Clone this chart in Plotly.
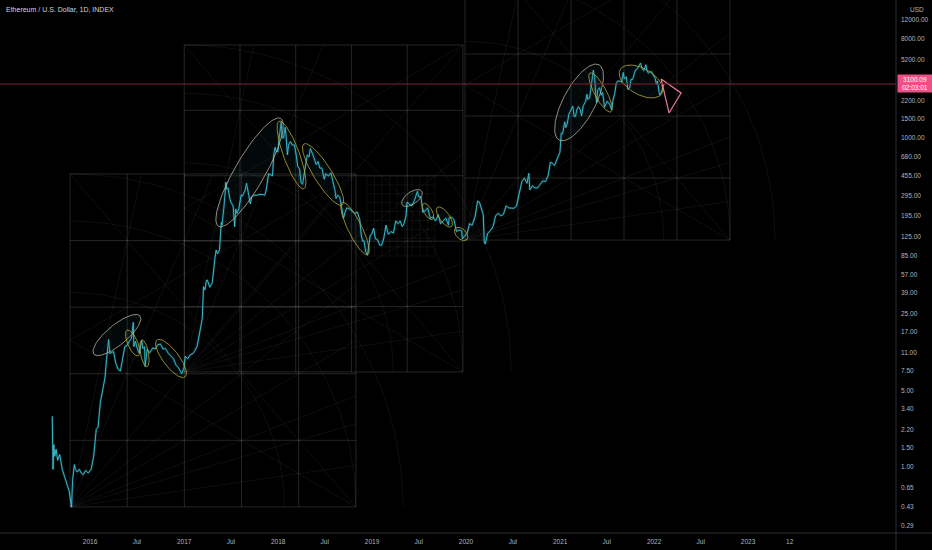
import numpy as np
import pandas as pd
import plotly.graph_objects as go

dates = [
    '2015-08-07', '2015-08-08', '2015-08-10', '2015-08-13', '2015-08-17', '2015-08-22', '2015-08-28',
    '2015-09-05', '2015-09-15', '2015-09-25', '2015-10-05', '2015-10-12', '2015-10-21', '2015-10-25',
    '2015-11-01', '2015-11-05', '2015-11-12', '2015-11-20', '2015-11-28', '2015-12-05', '2015-12-15',
    '2015-12-25',
    '2016-01-05', '2016-01-15', '2016-01-25', '2016-02-01', '2016-02-10', '2016-02-20', '2016-02-28',
    '2016-03-05', '2016-03-13', '2016-03-18', '2016-03-25', '2016-04-01', '2016-04-10', '2016-04-20',
    '2016-04-28', '2016-05-05', '2016-05-15', '2016-05-25', '2016-06-01', '2016-06-10', '2016-06-17',
    '2016-06-19', '2016-06-25', '2016-07-01', '2016-07-10', '2016-07-20', '2016-07-24', '2016-07-31',
    '2016-08-02', '2016-08-10', '2016-08-20', '2016-09-01', '2016-09-10', '2016-09-20', '2016-10-01',
    '2016-10-10', '2016-10-20', '2016-11-01', '2016-11-10', '2016-11-20', '2016-12-01', '2016-12-10',
    '2016-12-15', '2016-12-22', '2016-12-31',
    '2017-01-05', '2017-01-15', '2017-01-25', '2017-02-01', '2017-02-10', '2017-02-20', '2017-02-28',
    '2017-03-05', '2017-03-12', '2017-03-17', '2017-03-22', '2017-03-28', '2017-04-01', '2017-04-10',
    '2017-04-20', '2017-04-30', '2017-05-05', '2017-05-10', '2017-05-18', '2017-05-25', '2017-05-28',
    '2017-06-05', '2017-06-12', '2017-06-15', '2017-06-20', '2017-06-27', '2017-07-01', '2017-07-10',
    '2017-07-16', '2017-07-20', '2017-07-25', '2017-08-01', '2017-08-10', '2017-08-15', '2017-08-25',
    '2017-08-31', '2017-09-05', '2017-09-15', '2017-09-20', '2017-09-30', '2017-10-10', '2017-10-20',
    '2017-10-31', '2017-11-10', '2017-11-15', '2017-11-25', '2017-12-01', '2017-12-10', '2017-12-15',
    '2017-12-20', '2017-12-25', '2017-12-31',
    '2018-01-05', '2018-01-08', '2018-01-13', '2018-01-16', '2018-01-17', '2018-01-22', '2018-01-28',
    '2018-02-01', '2018-02-06', '2018-02-10', '2018-02-18', '2018-02-25', '2018-03-05', '2018-03-12',
    '2018-03-18', '2018-03-25', '2018-03-31', '2018-04-06', '2018-04-15', '2018-04-24', '2018-05-01',
    '2018-05-06', '2018-05-15', '2018-05-22', '2018-05-29', '2018-06-05', '2018-06-12', '2018-06-20',
    '2018-06-29', '2018-07-05', '2018-07-15', '2018-07-25', '2018-08-01', '2018-08-10', '2018-08-14',
    '2018-08-20', '2018-08-28', '2018-09-05', '2018-09-12', '2018-09-18', '2018-09-25', '2018-10-05',
    '2018-10-15', '2018-10-25', '2018-11-05', '2018-11-14', '2018-11-20', '2018-11-25', '2018-12-01',
    '2018-12-07', '2018-12-14', '2018-12-20', '2018-12-25', '2018-12-31',
    '2019-01-07', '2019-01-14', '2019-01-22', '2019-01-31', '2019-02-07', '2019-02-15', '2019-02-24',
    '2019-03-05', '2019-03-15', '2019-03-25', '2019-04-03', '2019-04-12', '2019-04-20', '2019-04-28',
    '2019-05-05', '2019-05-13', '2019-05-17', '2019-05-25', '2019-06-04', '2019-06-15', '2019-06-26',
    '2019-07-01', '2019-07-10', '2019-07-17', '2019-07-25', '2019-08-05', '2019-08-15', '2019-08-25',
    '2019-09-05', '2019-09-15', '2019-09-24', '2019-10-05', '2019-10-15', '2019-10-25', '2019-10-27',
    '2019-11-05', '2019-11-15', '2019-11-25', '2019-12-05', '2019-12-15', '2019-12-18', '2019-12-25',
    '2020-01-05', '2020-01-15', '2020-01-25', '2020-02-05', '2020-02-15', '2020-02-22', '2020-03-01',
    '2020-03-08', '2020-03-12', '2020-03-16', '2020-03-25', '2020-04-05', '2020-04-15', '2020-04-25',
    '2020-05-05', '2020-05-15', '2020-05-25', '2020-06-05', '2020-06-15', '2020-06-25', '2020-07-05',
    '2020-07-15', '2020-07-25', '2020-08-05', '2020-08-15', '2020-08-25', '2020-09-01', '2020-09-05',
    '2020-09-15', '2020-09-25', '2020-10-05', '2020-10-15', '2020-10-25', '2020-11-05', '2020-11-15',
    '2020-11-24', '2020-12-01', '2020-12-10', '2020-12-20', '2020-12-31',
    '2021-01-05', '2021-01-10', '2021-01-19', '2021-01-22', '2021-01-28', '2021-02-04', '2021-02-12',
    '2021-02-19', '2021-02-24', '2021-03-01', '2021-03-08', '2021-03-13', '2021-03-20', '2021-03-25',
    '2021-04-01', '2021-04-10', '2021-04-15', '2021-04-18', '2021-04-25', '2021-05-01', '2021-05-05',
    '2021-05-10', '2021-05-12', '2021-05-15', '2021-05-19', '2021-05-23', '2021-05-27', '2021-06-03',
    '2021-06-10', '2021-06-15', '2021-06-22', '2021-06-27', '2021-07-02', '2021-07-08', '2021-07-14',
    '2021-07-20', '2021-07-25', '2021-08-01', '2021-08-07', '2021-08-13', '2021-08-20', '2021-08-28',
    '2021-09-03', '2021-09-07', '2021-09-15', '2021-09-21', '2021-09-28', '2021-10-03', '2021-10-10',
    '2021-10-16', '2021-10-21', '2021-10-28', '2021-11-03', '2021-11-09', '2021-11-16', '2021-11-22',
    '2021-11-30', '2021-12-04', '2021-12-10', '2021-12-15', '2021-12-22', '2021-12-31',
    '2022-01-05', '2022-01-10', '2022-01-14', '2022-01-21', '2022-01-24', '2022-01-29', '2022-02-04',
    '2022-02-08',
]
closes = [
    2.9, 1.2, 0.95, 1.6, 1.25, 1.45, 1.15,
    1.3, 0.95, 0.8, 0.66, 0.6, 0.43, 0.75,
    1.05, 0.95, 0.9, 0.95, 0.88, 0.85, 0.93,
    0.88,
    0.95, 1.25, 2.2, 2.3, 3.9, 5.0, 6.5,
    9.5, 14.5, 10.8, 11.0, 11.3, 8.8, 7.7,
    7.5, 9.6, 12.5, 12.9, 14.0, 14.9, 20.8,
    12.5, 14.0, 12.4, 10.9, 14.2, 12.0, 12.5,
    8.2, 11.8, 11.0, 12.2, 11.9, 13.0, 13.2,
    11.9, 12.0, 10.8, 10.3, 9.7, 8.4, 8.0,
    7.6, 7.1, 8.0,
    10.2, 9.7, 10.6, 10.7, 11.3, 12.6, 16.0,
    19.5, 22.5, 44.0, 41.0, 50.0, 50.5, 43.5,
    48.0, 79.0, 95.0, 88.0, 95.0, 170.0, 160.0,
    245.0, 395.0, 340.0, 350.0, 280.0, 260.0, 240.0,
    155.0, 225.0, 205.0, 225.0, 300.0, 295.0, 330.0,
    385.0, 330.0, 250.0, 290.0, 300.0, 300.0, 305.0,
    305.0, 300.0, 330.0, 470.0, 465.0, 450.0, 700.0,
    820.0, 750.0, 750.0,
    1000.0, 1150.0, 1400.0, 1050.0, 1000.0, 1000.0, 1250.0,
    1030.0, 700.0, 860.0, 925.0, 860.0, 860.0, 700.0,
    550.0, 520.0, 390.0, 380.0, 500.0, 700.0, 670.0,
    800.0, 710.0, 640.0, 570.0, 610.0, 530.0, 530.0,
    420.0, 470.0, 450.0, 480.0, 415.0, 330.0, 280.0,
    300.0, 290.0, 230.0, 185.0, 210.0, 230.0, 225.0,
    215.0, 205.0, 210.0, 180.0, 130.0, 115.0, 115.0,
    92.0, 85.0, 110.0, 130.0, 133.0,
    150.0, 120.0, 118.0, 105.0, 105.0, 120.0, 160.0,
    132.0, 140.0, 136.0, 175.0, 165.0, 175.0, 155.0,
    165.0, 195.0, 260.0, 250.0, 240.0, 270.0, 325.0,
    290.0, 290.0, 210.0, 215.0, 230.0, 185.0, 190.0,
    175.0, 200.0, 165.0, 175.0, 185.0, 160.0, 185.0,
    190.0, 180.0, 140.0, 145.0, 142.0, 120.0, 126.0,
    135.0, 165.0, 160.0, 190.0, 265.0, 260.0, 230.0,
    200.0, 112.0, 108.0, 135.0, 143.0, 155.0, 195.0,
    205.0, 195.0, 200.0, 240.0, 230.0, 230.0, 228.0,
    238.0, 305.0, 400.0, 430.0, 385.0, 475.0, 335.0,
    365.0, 350.0, 350.0, 380.0, 405.0, 400.0, 450.0,
    600.0, 590.0, 560.0, 640.0, 740.0,
    1100.0, 1090.0, 1400.0, 1240.0, 1330.0, 1650.0, 1800.0,
    1950.0, 1570.0, 1570.0, 1840.0, 1920.0, 1810.0, 1590.0,
    1970.0, 2150.0, 2500.0, 2250.0, 2300.0, 2950.0, 3500.0,
    4150.0, 3800.0, 3650.0, 2450.0, 2100.0, 2750.0, 2850.0,
    2450.0, 2600.0, 1900.0, 2050.0, 2150.0, 2100.0, 1990.0,
    1800.0, 2200.0, 2550.0, 3150.0, 3300.0, 3300.0, 3220.0,
    3950.0, 3450.0, 3600.0, 2760.0, 2850.0, 3400.0, 3420.0,
    3850.0, 4150.0, 4280.0, 4600.0, 4800.0, 4250.0, 4100.0,
    4650.0, 4100.0, 3900.0, 4000.0, 4000.0, 3700.0,
    3500.0, 3080.0, 3300.0, 2570.0, 2450.0, 2600.0, 3000.0,
    3100.09,
]

# drawings: ellipses (major-axis end points, half width in px)
ell_start_dates = ['2016-01-16', '2016-05-24', '2016-07-21', '2016-09-17', '2017-05-14', '2018-01-05',
                   '2018-04-11', '2018-09-07', '2019-04-28', '2019-07-20', '2019-09-12', '2019-11-21',
                   '2020-12-28', '2021-04-27', '2021-08-22']
ell_start_prices = [10.7, 17.7, 14.4, 14.4, 156, 1420, 880, 258, 245, 251, 233, 150, 955, 3900, 4200]
ell_end_dates = ['2016-07-13', '2016-07-06', '2016-08-09', '2017-01-04', '2018-01-11', '2018-04-11',
                 '2018-09-07', '2018-12-15', '2019-07-13', '2019-08-24', '2019-11-05', '2020-01-04',
                 '2021-06-01', '2021-07-17', '2022-01-31']
ell_end_prices = [23.8, 10.3, 8.2, 6.6, 1503, 344, 244, 86.5, 327, 181, 155, 118, 4630, 1726, 2540]
ell_half_widths = [10, 5, 4, 8, 15, 8, 9, 7, 6, 4, 5, 5, 16, 6, 13]
ell_kinds = ['gray', 'olive', 'olive', 'olive', 'gray', 'olive', 'olive', 'olive', 'gray', 'olive',
             'olive', 'olive', 'gray', 'olive', 'olive']

# Gann boxes
box_start_dates = ['2015-10-15', '2017-01-01', '2019-12-28', '2018-12-12']
box_end_dates = ['2018-10-30', '2019-12-20', '2022-10-23', '2019-09-02']
box_low_prices = [0.432, 7.35, 117, 83.8]
box_high_prices = [469, 7030, 78500, 449]
box_divisions = [5, 5, 5, 9]

# triangle at the end
tri_dates = ['2022-01-28', '2022-04-16', '2022-02-28', '2022-01-28']
tri_prices = [3443, 2567, 1688, 3443]

y_ticks = [0.29, 0.43, 0.65, 1, 1.5, 2.2, 3.4, 5, 7.5, 11, 17, 25, 39, 57, 85, 125, 195, 295,
           455, 680, 1000, 1500, 2200, 3400, 5200, 8000, 12000, 18000]
x_ticks = ['2016-01-01', '2016-07-01', '2017-01-01', '2017-07-01', '2018-01-01', '2018-07-01',
           '2019-01-01', '2019-07-01', '2020-01-01', '2020-07-01', '2021-01-01', '2021-07-01',
           '2022-01-01', '2022-07-01', '2023-01-01', '2023-06-12']
x_tick_text = ['2016', 'Jul', '2017', 'Jul', '2018', 'Jul', '2019', 'Jul', '2020', 'Jul',
               '2021', 'Jul', '2022', 'Jul', '2023', '12']

x_start = pd.Timestamp('2015-01-16')
x_end = pd.Timestamp('2024-07-29')
y_lo, y_hi = np.log10(0.25), np.log10(18070)
PLOT_W, PLOT_H = 896, 533
span_days = (x_end - x_start).days


def to_px(d, p):
    X = (pd.Timestamp(d) - x_start).total_seconds() / 86400 * PLOT_W / span_days
    Y = (np.log10(p) - y_lo) * PLOT_H / (y_hi - y_lo)
    return X, Y


def from_px(X, Y):
    X = np.atleast_1d(np.asarray(X, dtype=float))
    Y = np.atleast_1d(np.asarray(Y, dtype=float))
    ds = [x_start + pd.Timedelta(days=v * span_days / PLOT_W) for v in X]
    ps = list(10 ** (y_lo + Y * (y_hi - y_lo) / PLOT_H))
    return ds, ps


fig = go.Figure()

# gann boxes, fans and arcs
grid_x, grid_y, fine_x, fine_y, fan_x, fan_y = [], [], [], [], [], []
for d0, d1, p0, p1, n in zip(box_start_dates, box_end_dates, box_low_prices, box_high_prices, box_divisions):
    X0, Y0 = to_px(d0, p0)
    X1, Y1 = to_px(d1, p1)
    w, h = X1 - X0, Y1 - Y0
    gx, gy = (grid_x, grid_y) if n <= 5 else (fine_x, fine_y)
    for i in range(n + 1):
        ds, ps = from_px([X0 + w * i / n] * 2, [Y0, Y1])
        gx += ds + [None]; gy += ps + [None]
        ds, ps = from_px([X0, X1], [Y0 + h * i / n] * 2)
        gx += ds + [None]; gy += ps + [None]
    if n > 5:
        continue
    for f in [0.125, 0.25, 0.333, 0.5, 0.667, 1.0]:
        ds, ps = from_px([X0, X1], [Y0, Y0 + h * f])
        fan_x += ds + [None]; fan_y += ps + [None]
    for f in [0.25, 0.5]:
        ds, ps = from_px([X0, X0 + w * f], [Y0, Y1])
        fan_x += ds + [None]; fan_y += ps + [None]
    ds, ps = from_px([X0, X1], [Y1, Y0])
    fan_x += ds + [None]; fan_y += ps + [None]
    ds, ps = from_px([X0, X1], [Y0 + h / 2, Y1])
    fan_x += ds + [None]; fan_y += ps + [None]
    ds, ps = from_px([X0, X1], [Y1 - h / 2, Y0])
    fan_x += ds + [None]; fan_y += ps + [None]
    t = np.linspace(0, np.pi / 2, 40)
    for r in [w, h, 0.75 * w]:
        ds, ps = from_px(X0 + r * np.cos(t), Y0 + r * np.sin(t))
        fan_x += ds + [None]; fan_y += ps + [None]

fig.add_trace(go.Scatter(x=fan_x, y=fan_y, mode='lines',
                         line=dict(color='rgba(255,255,255,0.055)', width=1), hoverinfo='skip'))
fig.add_trace(go.Scatter(x=fine_x, y=fine_y, mode='lines',
                         line=dict(color='rgba(255,255,255,0.08)', width=0.7), hoverinfo='skip'))
fig.add_trace(go.Scatter(x=grid_x, y=grid_y, mode='lines',
                         line=dict(color='rgba(255,255,255,0.14)', width=1), hoverinfo='skip'))

# price line with a soft glow
fig.add_trace(go.Scatter(x=dates, y=closes, mode='lines',
                         line=dict(color='rgba(54,197,216,0.18)', width=2.5), hoverinfo='skip'))
fig.add_trace(go.Scatter(x=dates, y=closes, mode='lines',
                         line=dict(color='#3cc8dc', width=0.9), name='ETHUSD'))

# ellipses
ell_colors = {'gray': 'rgba(205,200,170,0.7)', 'olive': 'rgba(185,165,50,0.8)'}
t = np.linspace(0, 2 * np.pi, 90)
for d0, p0, d1, p1, b, kind in zip(ell_start_dates, ell_start_prices, ell_end_dates, ell_end_prices,
                                   ell_half_widths, ell_kinds):
    Xa, Ya = to_px(d0, p0)
    Xb, Yb = to_px(d1, p1)
    cx, cy = (Xa + Xb) / 2, (Ya + Yb) / 2
    a = np.hypot(Xb - Xa, Yb - Ya) / 2
    th = np.arctan2(Yb - Ya, Xb - Xa)
    ex = cx + a * np.cos(t) * np.cos(th) - b * np.sin(t) * np.sin(th)
    ey = cy + a * np.cos(t) * np.sin(th) + b * np.sin(t) * np.cos(th)
    ds, ps = from_px(ex, ey)
    fig.add_trace(go.Scatter(x=ds, y=ps, mode='lines', fill='toself',
                             fillcolor='rgba(40,110,130,0.08)',
                             line=dict(color=ell_colors[kind], width=1), hoverinfo='skip'))

fig.add_trace(go.Scatter(x=tri_dates, y=tri_prices, mode='lines',
                         line=dict(color='#f07a9a', width=1.2), hoverinfo='skip'))

last_price = closes[-1]
font_axis = dict(family='Liberation Sans', size=6.5, color='#b2b5be')

fig.update_layout(
    width=932, height=550,
    margin=dict(l=0, r=36, t=0, b=17),
    paper_bgcolor='#000000', plot_bgcolor='#000000',
    showlegend=False, hovermode=False,
    xaxis=dict(range=[x_start, x_end], showgrid=False, zeroline=False, showline=False,
               tickvals=x_ticks, ticktext=x_tick_text, tickfont=font_axis, ticks='',
               ticklabelstandoff=3),
    yaxis=dict(type='log', range=[y_lo, y_hi], side='right', showgrid=False, zeroline=False,
               tickvals=y_ticks, ticktext=[f'{v:.2f}' for v in y_ticks], tickfont=font_axis,
               ticks='', ticklabelstandoff=4),
    shapes=[
        dict(type='line', xref='paper', yref='y', x0=0, x1=1,
             y0=last_price, y1=last_price,
             line=dict(color='#7d2236', width=1)),
        dict(type='line', xref='paper', yref='paper', x0=1, x1=1, y0=-0.04, y1=1,
             line=dict(color='#2a2e39', width=1)),
        dict(type='line', xref='paper', yref='paper', x0=0, x1=1.05, y0=0, y1=0,
             line=dict(color='#2a2e39', width=1)),
    ],
    annotations=[
        dict(text='Ethereum / U.S. Dollar, 1D, INDEX', xref='paper', yref='paper', x=0.004,
             y=1 - 10 / 533, xanchor='left', yanchor='middle', showarrow=False,
             font=dict(family='Liberation Sans', size=7, color='#d1d4dc')),
        dict(text='USD', xref='paper', yref='paper', x=1, y=1 - 9 / 533, xanchor='left',
             yanchor='middle', xshift=12, showarrow=False, font=font_axis),
        dict(text=f'{last_price:.2f}<br>02:03:01', xref='paper', yref='y', x=1,
             y=np.log10(last_price), xanchor='left', yanchor='middle', xshift=1,
             showarrow=False, bgcolor='#ef4f85', borderpad=1, width=32,
             font=dict(family='Liberation Sans', size=6.5, color='#ffffff')),
    ],
)

fig.write_html('out.html', config={'displayModeBar': False},
               post_script="document.body.style.margin='0';")
